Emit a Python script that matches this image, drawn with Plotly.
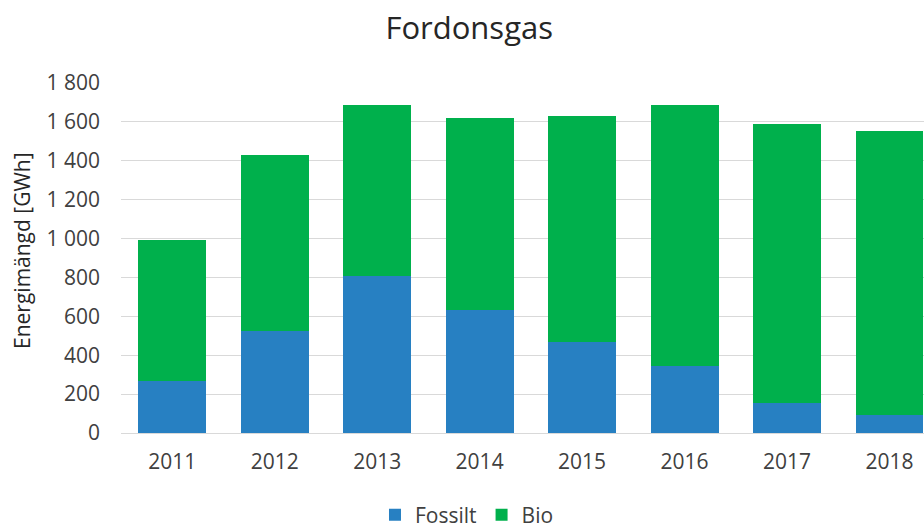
import plotly.graph_objects as go

years = ["2011", "2012", "2013", "2014", "2015", "2016", "2017", "2018"]
fossilt = [268, 525, 808, 633, 468, 345, 156, 91]
totals = [993, 1430, 1687, 1620, 1630, 1688, 1588, 1555]
bio = [t - f for t, f in zip(totals, fossilt)]

blue = "#2780C2"
green = "#00B04C"
font_family = "Open Sans"

W, H = 924, 526

fig = go.Figure()
fig.add_trace(go.Bar(x=years, y=fossilt, name="Fossilt", marker=dict(color=blue, line=dict(width=0))))
fig.add_trace(go.Bar(x=years, y=bio, name="Bio", marker=dict(color=green, line=dict(width=0))))

fig.update_layout(
    barmode="stack",
    bargap=0.337,
    width=W,
    height=H,
    margin=dict(l=121, r=0, t=83, b=93),
    paper_bgcolor="white",
    plot_bgcolor="white",
    font=dict(family=font_family, size=21, color="#404040"),
    title=dict(text="Fordonsgas", x=0.5078, xref="container", xanchor="center",
               y=1 - 28 / H, yref="container", yanchor="middle",
               font=dict(size=31, color="#262626", family=font_family)),
    legend=dict(orientation="h", xref="container", x=0.5054, xanchor="center",
                yref="container", y=11 / H, yanchor="middle",
                font=dict(size=21, color="#404040"), traceorder="normal",
                itemwidth=30),
    showlegend=True,
    separators=", ",
)
fig.update_xaxes(type="category", range=[-0.5, 7.337], showgrid=False, showline=False,
                 ticks="", ticklabelstandoff=14, tickfont=dict(size=21))
fig.update_yaxes(range=[0, 1800], dtick=200, tick0=0, showgrid=True, gridcolor="#D9D9D9",
                 gridwidth=1, zeroline=True, zerolinecolor="#D9D9D9", zerolinewidth=1,
                 separatethousands=True, ticks="", ticklabelstandoff=20,
                 tickfont=dict(size=21))
fig.add_annotation(text="Energimängd [GWh]", textangle=-90, xref="paper", yref="paper",
                   x=0, y=0.52, xanchor="center", yanchor="middle", xshift=-99,
                   showarrow=False, font=dict(size=21, color="#262626", family=font_family))

fig.write_html("out.html", config={"displayModeBar": False},
               post_script="document.body.style.margin='0';document.body.style.overflow='hidden';")
